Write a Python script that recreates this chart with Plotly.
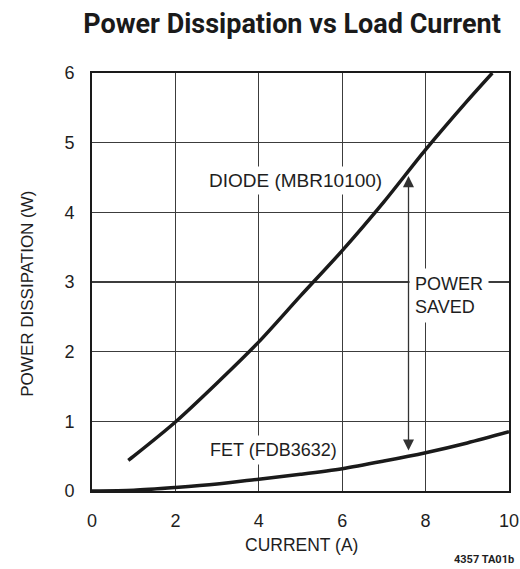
import plotly.graph_objects as go

# ---- data ----
diode_current = [0.87, 1.0, 2.0, 3.0, 4.0, 5.0, 6.0, 7.0, 8.0, 9.0, 9.6]
diode_power = [0.44, 0.50, 0.99, 1.55, 2.14, 2.80, 3.45, 4.15, 4.90, 5.60, 6.00]

fet_current = [0, 1, 2, 3, 4, 5, 6, 7, 8, 9, 10]
fet_power = [0.0, 0.01, 0.05, 0.10, 0.17, 0.24, 0.32, 0.43, 0.55, 0.69, 0.85]

x_ticks = [0, 2, 4, 6, 8, 10]
y_ticks = [0, 1, 2, 3, 4, 5, 6]

saved_at_current = 7.59
saved_low = 0.56
saved_high = 4.52

TXT = "#1e1e1e"
BODY = "Liberation Sans, Arial, Helvetica, sans-serif"
TITLEF = "Roboto, Liberation Sans, Arial, sans-serif"

# page body margin is removed by the post script, so page px == figure px
W, H = 520, 569
PL, PR, PT, PB = 92.3, 509.3, 73.3, 490.7   # plot area in page pixels
L = PL
R = W - PR
T = PT
B = H - PB

fig = go.Figure()
fig.add_trace(go.Scatter(x=diode_current, y=diode_power, mode="lines",
                         line=dict(color="#1a1a1a", width=3.5, shape="spline", smoothing=0.8),
                         hoverinfo="skip", showlegend=False))
fig.add_trace(go.Scatter(x=fet_current, y=fet_power, mode="lines",
                         line=dict(color="#1a1a1a", width=3.5, shape="spline", smoothing=0.8),
                         hoverinfo="skip", showlegend=False))

fig.update_layout(
    width=W, height=H,
    margin=dict(l=L, r=R, t=T, b=B, pad=0, autoexpand=False),
    paper_bgcolor="white", plot_bgcolor="white",
    showlegend=False,
    title=dict(text="<b>Power Dissipation vs Load Current</b>",
               font=dict(family=TITLEF, size=27, color="#1a1a1a"),
               x=292 / W, xanchor="center", xref="container",
               y=1 - 24 / H, yanchor="middle", yref="container"),
    xaxis=dict(range=[0, 10], tickvals=x_ticks, ticktext=[str(v) for v in x_ticks],
               showgrid=True, gridcolor="#3c3c3c", gridwidth=1.3,
               showline=True, linecolor="#1a1a1a", linewidth=2, mirror=True,
               zeroline=False, ticks="", ticklabelstandoff=12,
               tickfont=dict(family=BODY, size=18, color=TXT), fixedrange=True),
    yaxis=dict(range=[0, 6], tickvals=y_ticks, ticktext=[str(v) for v in y_ticks],
               showgrid=True, gridcolor="#3c3c3c", gridwidth=1.3,
               showline=True, linecolor="#1a1a1a", linewidth=2, mirror=True,
               zeroline=False, ticks="", ticklabelstandoff=12,
               tickfont=dict(family=BODY, size=18, color=TXT), fixedrange=True),
)

pw = PR - PL
ph = PB - PT


def px2paper_x(px):
    return (px - PL) / pw


def px2paper_y(py):
    return (PB - py) / ph


# curve labels with white boxes that break the grid
fig.add_annotation(x=2.72, y=4.45, xref="x", yref="y", text="DIODE (MBR10100)",
                   showarrow=False, xanchor="left", yanchor="middle",
                   font=dict(family=BODY, size=19, color=TXT),
                   bgcolor="white", borderpad=3)
fig.add_annotation(x=2.72, y=0.585, xref="x", yref="y", text="FET (FDB3632)",
                   showarrow=False, xanchor="left", yanchor="middle",
                   font=dict(family=BODY, size=18, color=TXT),
                   bgcolor="white", borderpad=4)
fig.add_annotation(x=7.6, y=2.81, xref="x", yref="y", text="POWER<br>SAVED",
                   showarrow=False, xanchor="left", yanchor="middle", align="left",
                   font=dict(family=BODY, size=18, color=TXT),
                   bgcolor="white", borderpad=5)

# double-headed arrow (power saved)
fig.add_annotation(x=saved_at_current, y=saved_high, ax=saved_at_current, ay=saved_low,
                   xref="x", yref="y", axref="x", ayref="y", text="",
                   showarrow=True, arrowhead=2, startarrowhead=2, arrowside="end+start",
                   arrowsize=1.7, startarrowsize=1.7, arrowwidth=1.3, arrowcolor="#333333",
                   standoff=0, startstandoff=0)

# axis titles
fig.add_annotation(x=px2paper_x(302), y=px2paper_y(545), xref="paper", yref="paper",
                   text="CURRENT (A)", showarrow=False, xanchor="center", yanchor="middle",
                   font=dict(family=BODY, size=17.5, color=TXT))
fig.add_annotation(x=px2paper_x(27), y=px2paper_y(294), xref="paper", yref="paper",
                   text="POWER DISSIPATION (W)", showarrow=False, textangle=-90,
                   xanchor="center", yanchor="middle",
                   font=dict(family=BODY, size=17, color=TXT))

# figure code
fig.add_annotation(x=px2paper_x(516), y=px2paper_y(559), xref="paper", yref="paper",
                   text="<b>4357 TA01b</b>", showarrow=False, xanchor="right", yanchor="middle",
                   font=dict(family=TITLEF, size=11, color=TXT))

fig.write_html("out.html",
               config={"displayModeBar": False, "staticPlot": True},
               post_script="document.body.style.margin='0';document.body.style.overflow='hidden';")
